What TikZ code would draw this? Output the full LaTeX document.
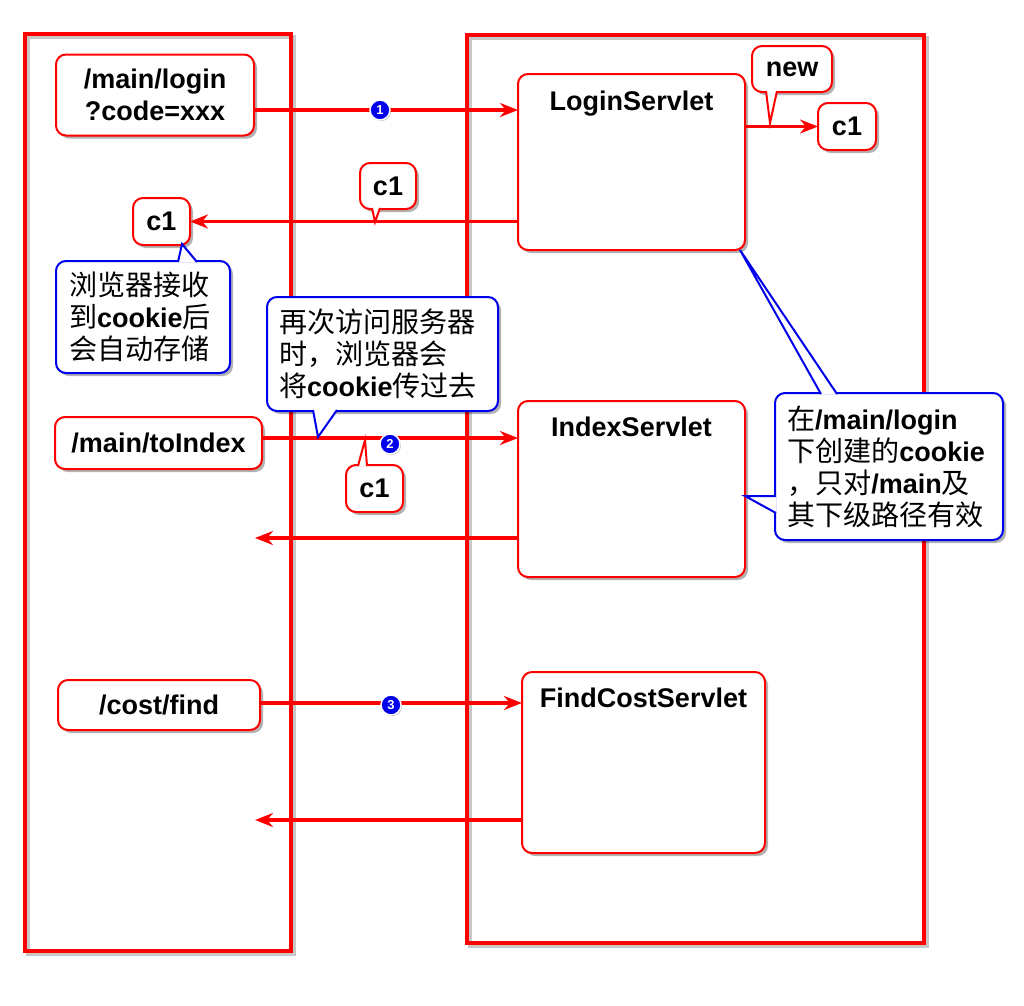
\documentclass[tikz,border=0pt]{standalone}
\usepackage{fontspec}
\setmainfont{Liberation Sans}
\newfontfamily\cjkfont[Scale=1.04]{Noto Sans CJK SC}
\newcommand\zhtext[1]{{\cjkfont\mdseries #1}}
\usetikzlibrary{arrows.meta,shadows,calc}
\definecolor{myred}{RGB}{255,0,0}
\definecolor{myblue}{RGB}{0,0,235}
\begin{document}
\begin{tikzpicture}[x=1pt,y=-1pt,
  lbl/.style={font=\bfseries\fontsize{27}{32}\selectfont},
  box/.style={draw=myred, line width=2pt, fill=white, rounded corners=10pt,
    inner sep=0pt, outer sep=0pt,
    drop shadow={shadow xshift=3pt,shadow yshift=-3pt,opacity=.3,fill=black},
    lbl, align=center},
  note/.style={box, draw=myblue, align=left},
  frame/.style={draw=myred, line width=4pt},
  fshadow/.style={draw=black, opacity=.22, line width=4pt},
  arr/.style={draw=myred, line width=3.5pt, -{Stealth[length=18pt,width=14pt]}},
  badge/.style={circle, fill=myblue, draw=white, line width=1.5pt, inner sep=0pt,
    minimum size=20pt, text=white, font=\bfseries\fontsize{13}{13}\selectfont,
    drop shadow={shadow xshift=1pt,shadow yshift=-1pt,opacity=.3,fill=black}},
  redptr/.style={draw=myred, line width=2pt, line join=miter},
  blueptr/.style={draw=myblue, line width=2pt, line join=miter},
]
\useasboundingbox (0,0) rectangle (1024,1005);

% frames
\draw[fshadow] (28,37) rectangle (294,954);
\draw[frame] (25,34) rectangle (291,951);
\draw[fshadow] (470,38) rectangle (927,946);
\draw[frame] (467,35) rectangle (924,943);

% helper coordinates
\coordinate (y1) at (0,110);
\coordinate (y2) at (0,438);
\coordinate (y3) at (0,703);
\coordinate (r2) at (255,538);
\coordinate (r3) at (255,820);

% main boxes
\node[box, minimum width=198pt, minimum height=81pt] (login) at (155,95) {/main/login\\?code=xxx};
\node[box, minimum width=227pt, minimum height=176pt,
  label={[lbl,anchor=base,yshift=-36pt]north:LoginServlet}] (ls) at (631.5,162) {};
\node[box, minimum width=58pt, minimum height=47pt] (c1r) at (847,126.5) {c1};
\node[box, minimum width=57pt, minimum height=47pt] (c1l) at (161.5,221.5) {c1};
\node[box, minimum width=207pt, minimum height=52pt] (toindex) at (158.5,443) {/main/toIndex};
\node[box, minimum width=227pt, minimum height=176pt,
  label={[lbl,anchor=base,yshift=-35pt]north:IndexServlet}] (is) at (631.5,489) {};
\node[box, minimum width=202pt, minimum height=50pt] (cost) at (159,705) {/cost/find};
\node[box, minimum width=243pt, minimum height=181pt,
  label={[lbl,anchor=base,yshift=-35pt]north:FindCostServlet}] (fc) at (643.5,762.5) {};

% arrows
\draw[arr] (login.east |- y1) -- (ls.west |- y1);
\draw[arr] (ls.east |- c1r.west) -- (c1r.west);
\draw[arr] (ls.west |- c1l.east) -- (c1l.east);
\draw[arr] (toindex.east |- y2) -- (is.west |- y2);
\draw[arr] (is.west |- r2) -- (r2);
\draw[arr] (cost.east |- y3) -- (fc.west |- y3);
\draw[arr] (fc.west |- r3) -- (r3);

% badges
\node[badge] (b1) at (380,110) {1};
\node[badge] (b2) at (390,444) {2};
\node[badge] (b3) at (391,705) {3};

% red callouts
\node[box, minimum width=80pt, minimum height=46pt] (newc) at (792,69) {new};
\coordinate (newtip) at (770,123);
\fill[white] ($(newc.south west)+(14,-1)$) -- (newtip) -- ($(newc.south west)+(25,-1)$) -- cycle;
\draw[redptr] ($(newc.south west)+(14,-1)$) -- (newtip) -- ($(newc.south west)+(25,-1)$);

\node[box, minimum width=56pt, minimum height=46pt] (c1m) at (388,186) {c1};
\coordinate (c1mtip) at (375,222);
\fill[white] ($(c1m.south west)+(12,-1)$) -- (c1mtip) -- ($(c1m.south west)+(20,-1)$) -- cycle;
\draw[redptr] ($(c1m.south west)+(12,-1)$) -- (c1mtip) -- ($(c1m.south west)+(20,-1)$);

\node[box, minimum width=57pt, minimum height=47pt] (c1b) at (374.5,488.5) {c1};
\coordinate (c1btip) at (365,440);
\fill[white] ($(c1b.north west)+(12,1)$) -- (c1btip) -- ($(c1b.north west)+(21,1)$) -- cycle;
\draw[redptr] ($(c1b.north west)+(12,1)$) -- (c1btip) -- ($(c1b.north west)+(21,1)$);

% blue callouts
\node[note, minimum width=174pt, minimum height=112pt, inner xsep=13pt, text width=148pt]
  (brow) at (143,317) {\zhtext{浏览器接收}\\\zhtext{到}cookie\zhtext{后}\\\zhtext{会自动存储}};
\coordinate (browtip) at ($(c1l.south east)+(-8,-1)$);
\fill[white] ($(brow.north west)+(122,1)$) -- (browtip) -- ($(brow.north west)+(141,1)$) -- cycle;
\draw[blueptr] ($(brow.north west)+(122,1)$) -- (browtip) -- ($(brow.north west)+(141,1)$);

\node[note, minimum width=231pt, minimum height=114pt, inner xsep=12pt, text width=207pt]
  (again) at (382.5,354) {\zhtext{再次访问服务器}\\\zhtext{时，浏览器会}\\\zhtext{将}cookie\zhtext{传过去}};
\coordinate (againtip) at (318,437);
\fill[white] ($(again.south west)+(46,-1)$) -- (againtip) -- ($(again.south west)+(70,-1)$) -- cycle;
\draw[blueptr] ($(again.south west)+(46,-1)$) -- (againtip) -- ($(again.south west)+(70,-1)$);

\node[note, minimum width=228pt, minimum height=147pt, inner xsep=12pt, text width=204pt]
  (scopenote) at (889,466.5) {\zhtext{在}/main/login\\\zhtext{下创建的}cookie\\\zhtext{，只对}/main\zhtext{及}\\\zhtext{其下级路径有效}};
\coordinate (scopetipA) at ($(ls.south east)+(-5,0)$);
\coordinate (scopetipB) at ($(is.east)+(0,7)$);
\fill[white] ($(scopenote.north west)+(46,1)$) -- (scopetipA) -- ($(scopenote.north west)+(62,1)$) -- cycle;
\draw[blueptr] ($(scopenote.north west)+(46,1)$) -- (scopetipA) -- ($(scopenote.north west)+(62,1)$);
\fill[white] ($(scopenote.north west)+(1,103)$) -- (scopetipB) -- ($(scopenote.north west)+(1,120)$) -- cycle;
\draw[blueptr] ($(scopenote.north west)+(1,103)$) -- (scopetipB) -- ($(scopenote.north west)+(1,120)$);
\end{tikzpicture}
\end{document}
